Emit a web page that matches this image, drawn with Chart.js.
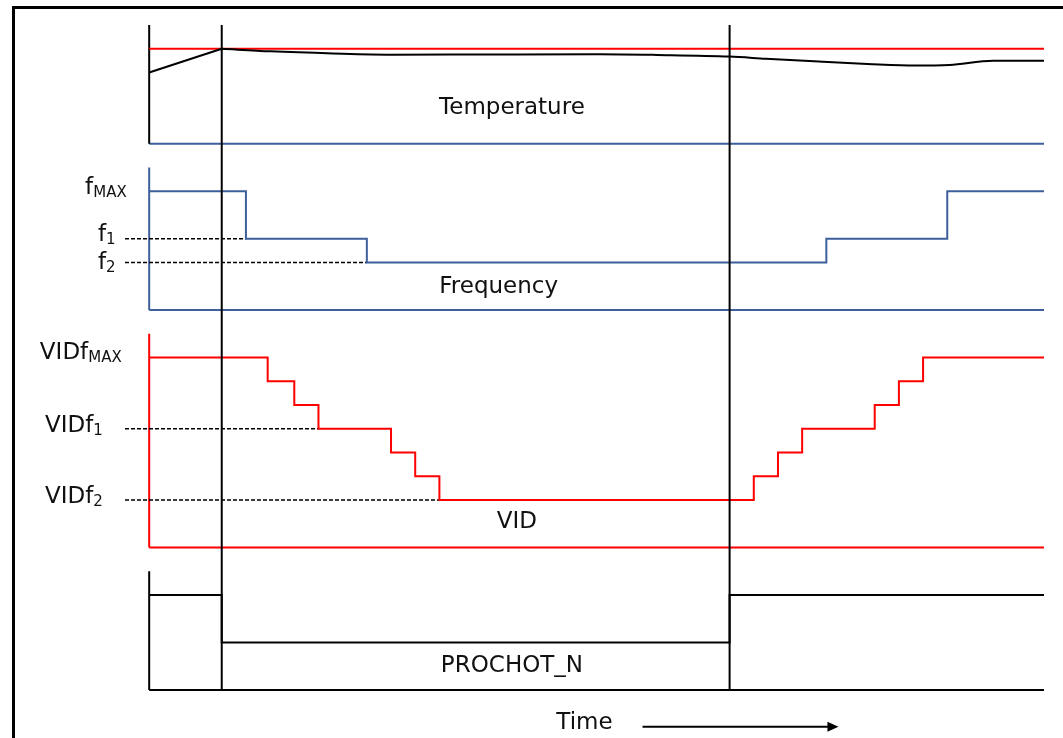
<!DOCTYPE html>
<html>
<head>
<meta charset="utf-8">
<script src="https://cdn.jsdelivr.net/npm/chart.js@4"></script>
<style>
  html, body { margin: 0; padding: 0; background: #fff; }
  #wrap { width: 1063px; height: 738px; position: relative; }
</style>
</head>
<body>
<div id="wrap"><canvas id="timing"></canvas></div>
<script>
// time runs in arbitrary units, 0 = left edge of the traces
const timeMin = -1;
const timeMax = 37;
const throttleOn = 3;    // PROCHOT_N asserted
const throttleOff = 24;  // PROCHOT_N released

// temperature trace (limit at 4)
const tempTimes = [0, 3, 5, 7.6, 10, 14, 18.6, 21, 24, 25.5, 27.5, 29.7, 31.7, 33.1, 34.9, 37];
const tempValues = [3.0, 4.0, 3.89, 3.8, 3.75, 3.76, 3.77, 3.74, 3.67, 3.58, 3.47, 3.36, 3.29, 3.32, 3.49, 3.49];
const tempLimit = 4;

// frequency: fMAX = 5, f1 = 3, f2 = 2
const freqTimes = [0, 4, 9, 28, 33, 37];
const freqValues = [5, 3, 2, 3, 5, 5];
const freqLevels = [5, 3, 2];
const freqLabelMain = ['f', 'f', 'f'];
const freqLabelSub = ['MAX', '1', '2'];
const freqLabelTimes = [-2.65, -2.12, -2.12];
const freqLabelDrop = [0.13, 0.1, 0.27];
const freqDashEnds = [null, 4, 9];

// VID: VIDfMAX = 8, VIDf1 = 5, VIDf2 = 2
const vidTimes = [0, 4.9, 6, 7, 10, 11, 12, 25, 26, 27, 30, 31, 32, 37];
const vidValues = [8, 7, 6, 5, 4, 3, 2, 3, 4, 5, 6, 7, 8, 8];
const vidLevels = [8, 5, 2];
const vidLabelMain = ['VIDf', 'VIDf', 'VIDf'];
const vidLabelSub = ['MAX', '1', '2'];
const vidLabelTimes = [-4.52, -4.31, -4.31];
const vidLabelDrop = [0.05, 0.12, 0.12];
const vidDashEnds = [null, 7, 12];

// PROCHOT_N: high = 4, low = 2
const hotTimes = [0, throttleOn, throttleOff, 37];
const hotValues = [4, 2, 4, 4];

// panel titles
const panelTitles = ['Temperature', 'Frequency', 'VID', 'PROCHOT_N'];
const panelAxes = ['yTemp', 'yFreq', 'yVid', 'yHot'];
const panelTops = [5, 6, 9, 5];
const titleTimes = [15, 14.45, 15.2, 15];
const titleLevels = [1.25, 0.72, 0.84, 0.76];

const timeLabel = 'Time';
const timeLabelAt = 18;
const arrowFrom = 20.4;
const arrowTo = 28.5;
const timeRowLevel = -1.55;

const RED = 'rgb(255, 0, 0)';
const BLUE = '#3d5f9c';
const BLACK = '#000';
const FONT = '"DejaVu Sans", Verdana, sans-serif';

const pts = (xs, ys) => xs.map((x, i) => ({ x: x, y: ys[i] }));

function line(data, axis, color, extra) {
  return Object.assign({
    data: data,
    yAxisID: axis,
    borderColor: color,
    borderWidth: 2,
    pointRadius: 0,
    fill: false,
    tension: 0,
    clip: false
  }, extra || {});
}

function frame(axis, top, vColor, hColor) {
  return [
    line([{ x: 0, y: top }, { x: 0, y: 0 }], axis, vColor),
    line([{ x: 0, y: 0 }, { x: timeMax, y: 0 }], axis, hColor)
  ];
}

function dashes(levels, ends, axis) {
  const out = [];
  levels.forEach((lv, i) => {
    if (ends[i] === null) return;
    out.push(line([{ x: timeMin, y: lv }, { x: ends[i], y: lv }], axis, BLACK,
      { borderWidth: 1.5, borderDash: [4, 2] }));
  });
  return out;
}

const datasets = [
  // throttling markers across all panels
  line([{ x: throttleOn, y: 0 }, { x: throttleOn, y: 1 }], 'yAll', BLACK),
  line([{ x: throttleOff, y: 0 }, { x: throttleOff, y: 1 }], 'yAll', BLACK),

  // temperature
  line(pts(tempTimes.slice(0, 2), tempValues.slice(0, 2)), 'yTemp', BLACK),
  line(pts(tempTimes.slice(1), tempValues.slice(1)), 'yTemp', BLACK,
    { tension: 0.4, cubicInterpolationMode: 'monotone' }),
  line([{ x: 0, y: tempLimit }, { x: timeMax, y: tempLimit }], 'yTemp', RED),
  ...frame('yTemp', panelTops[0], BLACK, BLUE),

  // frequency
  line(pts(freqTimes, freqValues), 'yFreq', BLUE, { stepped: 'before' }),
  ...dashes(freqLevels, freqDashEnds, 'yFreq'),
  ...frame('yFreq', panelTops[1], BLUE, BLUE),

  // VID
  line(pts(vidTimes, vidValues), 'yVid', RED, { stepped: 'before' }),
  ...dashes(vidLevels, vidDashEnds, 'yVid'),
  ...frame('yVid', panelTops[2], RED, RED),

  // PROCHOT_N
  line(pts(hotTimes, hotValues), 'yHot', BLACK, { stepped: 'before' }),
  ...frame('yHot', panelTops[3], BLACK, BLACK)
];

function subLabel(ctx, x, y, main, sub) {
  ctx.textAlign = 'left';
  ctx.textBaseline = 'alphabetic';
  ctx.font = '23px ' + FONT;
  ctx.fillText(main, x, y);
  const w = ctx.measureText(main).width;
  ctx.font = '15px ' + FONT;
  ctx.fillText(sub, x + w, y + 3);
}

const diagramText = {
  id: 'diagramText',
  beforeDraw(chart) {
    const ctx = chart.ctx;
    ctx.save();
    ctx.fillStyle = '#fff';
    ctx.fillRect(0, 0, chart.width, chart.height);
    // page frame
    ctx.strokeStyle = BLACK;
    ctx.lineWidth = 3;
    ctx.beginPath();
    ctx.moveTo(13.5, chart.height + 5);
    ctx.lineTo(13.5, 7.5);
    ctx.lineTo(chart.width + 5, 7.5);
    ctx.stroke();
    ctx.restore();
  },
  afterDraw(chart) {
    const ctx = chart.ctx;
    const x = chart.scales.x;
    ctx.save();
    ctx.fillStyle = '#111';

    // panel titles
    ctx.font = '23px ' + FONT;
    ctx.textAlign = 'center';
    ctx.textBaseline = 'alphabetic';
    panelTitles.forEach((t, i) => {
      const y = chart.scales[panelAxes[i]];
      ctx.fillText(t, x.getPixelForValue(titleTimes[i]), y.getPixelForValue(titleLevels[i]));
    });

    // level labels
    const yF = chart.scales.yFreq;
    freqLevels.forEach((lv, i) => {
      subLabel(ctx, x.getPixelForValue(freqLabelTimes[i]), yF.getPixelForValue(lv - freqLabelDrop[i]),
        freqLabelMain[i], freqLabelSub[i]);
    });
    const yV = chart.scales.yVid;
    vidLevels.forEach((lv, i) => {
      subLabel(ctx, x.getPixelForValue(vidLabelTimes[i]), yV.getPixelForValue(lv - vidLabelDrop[i]),
        vidLabelMain[i], vidLabelSub[i]);
    });

    // time arrow
    const yH = chart.scales.yHot;
    ctx.font = '23px ' + FONT;
    ctx.textAlign = 'center';
    ctx.fillText(timeLabel, x.getPixelForValue(timeLabelAt), yH.getPixelForValue(timeRowLevel - 0.1));
    const ay = yH.getPixelForValue(timeRowLevel);
    const ax0 = x.getPixelForValue(arrowFrom);
    const ax1 = x.getPixelForValue(arrowTo);
    ctx.strokeStyle = BLACK;
    ctx.lineWidth = 2;
    ctx.beginPath();
    ctx.moveTo(ax0, ay);
    ctx.lineTo(ax1 - 8, ay);
    ctx.stroke();
    ctx.fillStyle = BLACK;
    ctx.beginPath();
    ctx.moveTo(ax1, ay);
    ctx.lineTo(ax1 - 11, ay - 5);
    ctx.lineTo(ax1 - 11, ay + 5);
    ctx.closePath();
    ctx.fill();
    ctx.restore();
  }
};

const panelScale = (weight, stackWeight, min, max) => ({
  type: 'linear',
  display: false,
  position: 'left',
  stack: 'panels',
  stackWeight: stackWeight,
  weight: weight,
  min: min,
  max: max
});

new Chart(document.getElementById('timing').getContext('2d'), {
  type: 'line',
  data: { datasets: datasets },
  options: {
    responsive: true,
    maintainAspectRatio: false,
    animation: false,
    events: [],
    layout: { padding: { left: 125, top: 25, right: 19, bottom: 48 } },
    plugins: { legend: { display: false }, tooltip: { enabled: false } },
    scales: {
      x: { type: 'linear', display: false, min: timeMin, max: timeMax },
      yTemp: panelScale(4, 6, -1, panelTops[0]),
      yFreq: panelScale(3, 7, -1, panelTops[1]),
      yVid: panelScale(2, 10, -1, panelTops[2]),
      yHot: panelScale(1, 5, 0, panelTops[3]),
      yAll: { type: 'linear', display: false, position: 'right', min: 0, max: 1 }
    }
  },
  plugins: [diagramText]
});
</script>
</body>
</html>
